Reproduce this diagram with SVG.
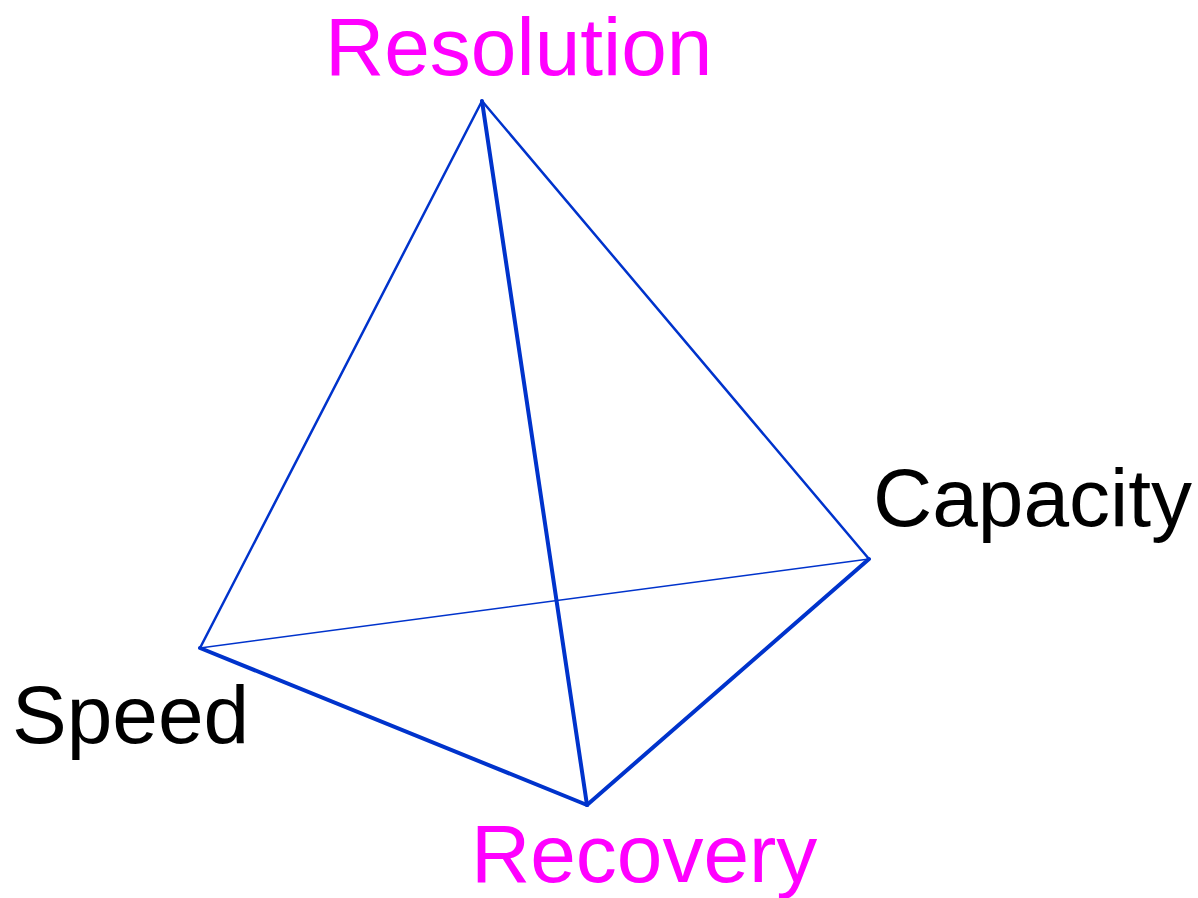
<svg xmlns="http://www.w3.org/2000/svg" width="1198" height="898" viewBox="0 0 1198 898">
<style>
.e{stroke:#0033CC;fill:none;stroke-linecap:round}
.t{font-family:"Liberation Sans",Arial,sans-serif;font-size:82px}
.m{fill:#FF00FF}
.k{fill:#000000}
</style>
<rect width="1198" height="898" fill="#ffffff"/>
<g id="connectors">
<line class="e" x1="200" y1="648" x2="869" y2="559" stroke-width="1.5"/>
<line class="e" x1="482" y1="101" x2="200" y2="648" stroke-width="2.5"/>
<line class="e" x1="482" y1="101" x2="869" y2="559" stroke-width="2.5"/>
<line class="e" x1="482" y1="101" x2="587" y2="805" stroke-width="4"/>
<line class="e" x1="200" y1="648" x2="587" y2="805" stroke-width="4"/>
<line class="e" x1="587" y1="805" x2="869" y2="559" stroke-width="4"/>
</g>
<g id="resolution"><text class="t m" x="325" y="75">Resolution</text></g>
<g id="capacity"><text class="t k" x="873" y="526">Capacity</text></g>
<g id="speed"><text class="t k" x="12" y="743">Speed</text></g>
<g id="recovery"><text class="t m" x="471" y="882">Recovery</text></g>
</svg>
